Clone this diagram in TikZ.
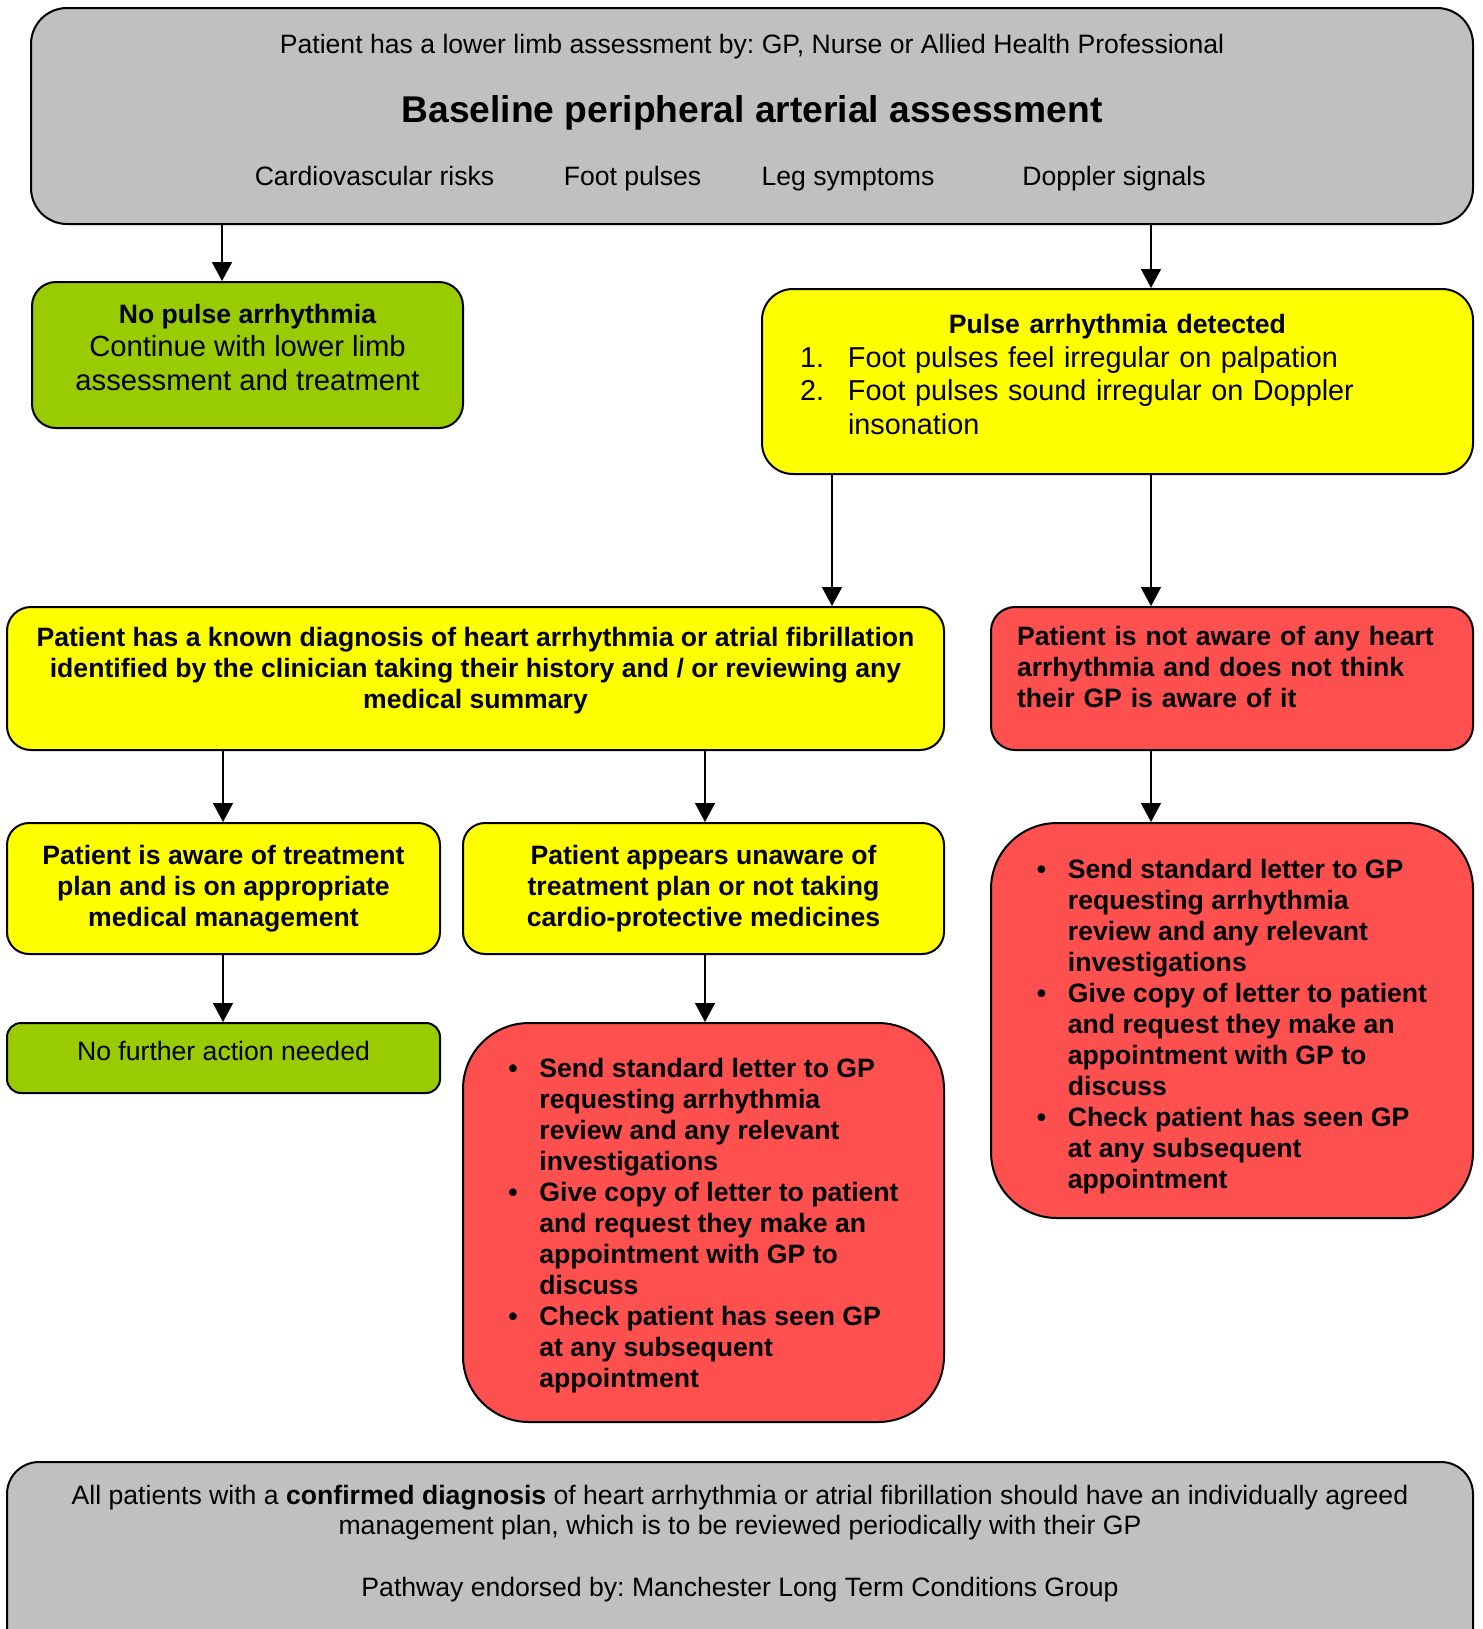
\documentclass[tikz,border=0pt]{standalone}
\usepackage{fontspec}
\setmainfont{Liberation Sans}
\usetikzlibrary{arrows.meta,positioning}
\frenchspacing

\definecolor{boxgrey}{HTML}{C0C0C0}
\definecolor{boxgreen}{HTML}{99CC00}
\definecolor{boxyellow}{HTML}{FFFF00}
\definecolor{boxred}{HTML}{FF5050}

\newcommand{\itemmark}{\makebox[15.5pt][l]{\textbullet}}
\newcommand{\itemgap}{\hspace*{15.5pt}}
% struts that push a text block up (depth) or down (height)
\newcommand{\lowstrut}[1]{\rule[-#1]{0pt}{0pt}}
\newcommand{\highstrut}[1]{\rule{0pt}{#1}}

\begin{document}
\begin{tikzpicture}[
    x=0.5pt, y=-0.5pt,
    block/.style={draw, line width=1pt, inner sep=0pt, align=center},
    bodytext/.style={font=\fontsize{13.3}{15.5}\selectfont},
    boldtext/.style={font=\fontsize{13.3}{15.5}\selectfont\bfseries},
    largetext/.style={font=\fontsize{14.6}{16.75}\selectfont},
    arrow/.style={-{Triangle[length=9.5pt,width=10pt]}, line width=0.9pt}
  ]
  \useasboundingbox (0,0) rectangle (1483,1629);
  \clip (0,0) rectangle (1483,1629);

  % ---- Assessment ----
  \node[block, fill=boxgrey, rounded corners=18pt, minimum width=721pt, minimum height=108pt] (top) at (752,116) {};
  \node[bodytext] (who) at (752,47) {Patient has a lower limb assessment by: GP, Nurse or Allied Health Professional};
  \node[font=\fontsize{18.6}{22}\selectfont\bfseries] (title) at (752,113) {Baseline peripheral arterial assessment};
  \node[bodytext, anchor=base] (risks)    at (374.5,185.5) {Cardiovascular risks};
  \node[bodytext, anchor=base] (pulses)   at (632.5,185.5) {Foot pulses};
  \node[bodytext, anchor=base] (symptoms) at (848,185.5)   {Leg symptoms};
  \node[bodytext, anchor=base] (doppler)  at (1114,185.5)  {Doppler signals};

  % ---- Pulse check ----
  \node[block, fill=boxgreen, rounded corners=12pt, minimum width=215.5pt, minimum height=73pt, largetext] (nopulse) at (247.5,355)
    {{\fontsize{13.3}{16.75}\selectfont\bfseries No pulse arrhythmia}\\Continue with lower limb\\assessment and treatment\lowstrut{8pt}};
  \node[block, fill=boxyellow, rounded corners=15.5pt, minimum width=355.5pt, minimum height=92.5pt,
        font=\fontsize{14.4}{16.75}\selectfont, align=left, text width=317.5pt] (detected) at (1117.5,381.5)
    {\makebox[\linewidth]{\fontsize{13.3}{16.75}\selectfont\bfseries Pulse arrhythmia detected}\\
     \makebox[24pt][l]{1.}Foot pulses feel irregular on palpation\\
     \makebox[24pt][l]{2.}Foot pulses sound irregular on Doppler\\
     \hspace*{24pt}insonation\lowstrut{7pt}};

  % ---- Known or not ----
  \node[block, fill=boxyellow, rounded corners=12pt, minimum width=468.5pt, minimum height=71.5pt, boldtext] (known) at (475.5,678.5)
    {Patient has a known diagnosis of heart arrhythmia or atrial fibrillation\\
     identified by the clinician taking their history and / or reviewing any\\
     medical summary\lowstrut{10.8pt}};
  \node[block, fill=boxred, rounded corners=12pt, minimum width=241pt, minimum height=71.5pt, boldtext,
        align=left, text width=215pt] (unknown) at (1232,678.5)
    {Patient is not aware of any heart\\arrhythmia and does not think\\their GP is aware of it\lowstrut{11.4pt}};

  % ---- Treatment plan ----
  \node[block, fill=boxyellow, rounded corners=11pt, minimum width=216.5pt, minimum height=65.5pt, boldtext] (aware) at (223.5,888.5)
    {Patient is aware of treatment\\plan and is on appropriate\\medical management};
  \node[block, fill=boxyellow, rounded corners=11pt, minimum width=240.5pt, minimum height=65.5pt, boldtext] (unaware) at (703.5,888.5)
    {Patient appears unaware of\\treatment plan or not taking\\cardio-protective medicines};

  % ---- Actions ----
  \node[block, fill=boxgreen, rounded corners=7pt, minimum width=216.5pt, minimum height=35pt, bodytext] (nofurther) at (223.5,1058)
    {No further action needed\lowstrut{7.3pt}};
  \node[block, fill=boxred, rounded corners=33pt, minimum width=240.5pt, minimum height=199.5pt, boldtext, align=left] (lettermid) at (703.5,1222.5)
    {\highstrut{12.9pt}\itemmark Send standard letter to GP\\ \itemgap requesting arrhythmia\\ \itemgap review and any relevant\\ \itemgap investigations\\
     \itemmark Give copy of letter to patient\\ \itemgap and request they make an\\ \itemgap appointment with GP to\\ \itemgap discuss\\
     \itemmark Check patient has seen GP\\ \itemgap at any subsequent\\ \itemgap appointment};
  \node[block, fill=boxred, rounded corners=33pt, minimum width=241pt, minimum height=197.5pt, boldtext, align=left] (letterright) at (1232,1020.5)
    {\highstrut{15.9pt}\itemmark Send standard letter to GP\\ \itemgap requesting arrhythmia\\ \itemgap review and any relevant\\ \itemgap investigations\\
     \itemmark Give copy of letter to patient\\ \itemgap and request they make an\\ \itemgap appointment with GP to\\ \itemgap discuss\\
     \itemmark Check patient has seen GP\\ \itemgap at any subsequent\\ \itemgap appointment};

  % ---- Footer ----
  \node[block, fill=boxgrey, rounded corners=16pt, minimum width=733pt, minimum height=119pt] (footer) at (740,1581) {};
  \node[font=\fontsize{13.3}{15}\selectfont, align=center] (note) at (740,1544)
    {All patients with a \textbf{confirmed diagnosis} of heart arrhythmia or atrial fibrillation should have an individually agreed\\
     management plan, which is to be reviewed periodically with their GP\\[16pt]
     Pathway endorsed by: Manchester Long Term Conditions Group};

  % ---- Arrows ----
  \coordinate (x1) at (222,0);
  \coordinate (x2) at (1151,0);
  \coordinate (x3) at (832,0);
  \coordinate (x4) at (223,0);
  \coordinate (x5) at (705,0);
  \draw[arrow] (top.south -| x1)      -- (nopulse.north -| x1);
  \draw[arrow] (top.south -| x2)      -- (detected.north -| x2);
  \draw[arrow] (detected.south -| x3) -- (known.north -| x3);
  \draw[arrow] (detected.south -| x2) -- (unknown.north -| x2);
  \draw[arrow] (known.south -| x4)    -- (aware.north -| x4);
  \draw[arrow] (known.south -| x5)    -- (unaware.north -| x5);
  \draw[arrow] (unknown.south -| x2)  -- (letterright.north -| x2);
  \draw[arrow] (aware.south -| x4)    -- (nofurther.north -| x4);
  \draw[arrow] (unaware.south -| x5)  -- (lettermid.north -| x5);
\end{tikzpicture}
\end{document}
